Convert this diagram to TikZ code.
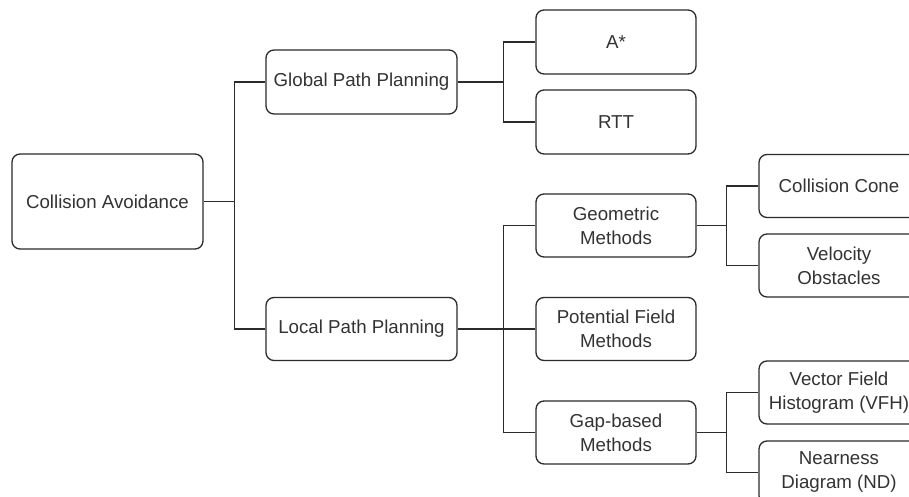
\documentclass[tikz,border=0pt]{standalone}
\usepackage{fontspec}
\setmainfont{Liberation Sans}
\definecolor{linec}{HTML}{2B2B2B}
\definecolor{txtc}{HTML}{333333}
\begin{document}
\begin{tikzpicture}[x=1pt,y=-1pt,
  box/.style={draw=linec, line width=1.3pt, rounded corners=8pt, fill=white,
    text=txtc, align=center, inner sep=0pt, font=\fontsize{18.7}{24}\selectfont},
  wide/.style={box, minimum width=191pt},
  narrow/.style={box, minimum width=160pt, minimum height=63pt},
  conn/.style={draw=linec, line width=1.3pt}]
\useasboundingbox (0,0) rectangle (909,497);
\clip (0,0) rectangle (909,497);
\node[wide, minimum height=95pt] (ca) at (107.5,201.5) {Collision Avoidance};
\node[wide, minimum height=64pt] (gpp) at (361.5,82) {Global Path Planning};
\node[wide, minimum height=63pt] (lpp) at (361.5,329) {Local Path Planning};
\node[narrow, minimum height=64pt] (astar) at (616,42) {A*};
\node[narrow, minimum height=64pt] (rtt) at (616,122) {RTT};
\node[narrow] (geo) at (616,225.5) {Geometric\\Methods};
\node[narrow] (pot) at (616,329) {Potential Field\\Methods};
\node[narrow] (gap) at (616,432.5) {Gap-based\\Methods};
\node[narrow] (cc) at (839,186) {Collision Cone};
\node[narrow] (vo) at (839,265.5) {Velocity\\Obstacles};
\node[narrow] (vfh) at (839,392.5) {Vector Field\\Histogram (VFH)};
\node[narrow] (nd) at (839,472.5) {Nearness\\Diagram (ND)};
\draw[conn] (gpp.west) -- ++(-31,0) |- (ca.east);
\draw[conn] (lpp.west) -- ++(-31,0) |- (ca.east);
\draw[conn] (astar.west) -- ++(-32,0) |- (gpp.east);
\draw[conn] (rtt.west) -- ++(-32,0) |- (gpp.east);
\draw[conn] (geo.west) -- ++(-32,0) |- (lpp.east);
\draw[conn] (pot.west) -- (lpp.east);
\draw[conn] (gap.west) -- ++(-32,0) |- (lpp.east);
\draw[conn] (cc.west) -- ++(-32,0) |- (geo.east);
\draw[conn] (vo.west) -- ++(-32,0) |- (geo.east);
\draw[conn] (vfh.west) -- ++(-32,0) |- (gap.east);
\draw[conn] (nd.west) -- ++(-32,0) |- (gap.east);
\end{tikzpicture}
\end{document}
